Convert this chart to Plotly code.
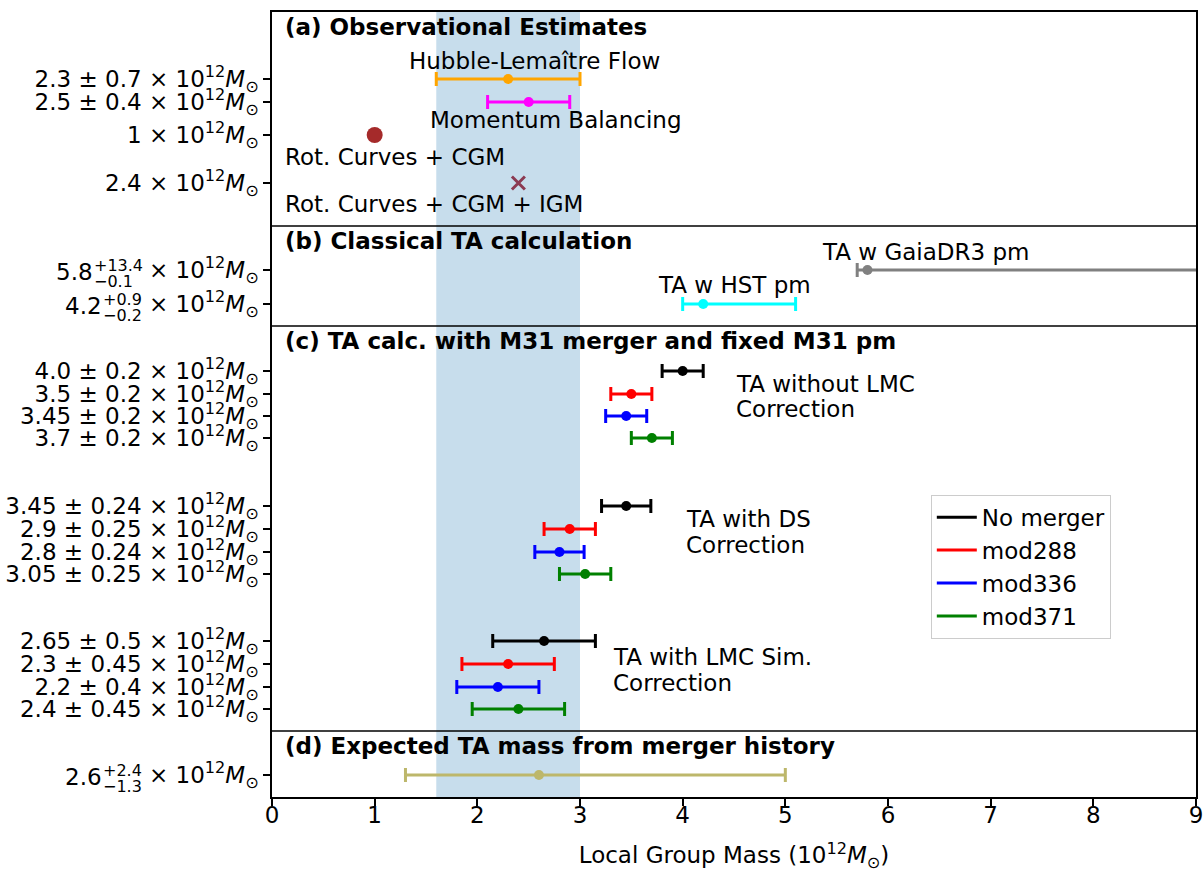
import plotly.graph_objects as go

# ---------------- data ----------------
# Panel (a): observational estimates
hubble_mass, hubble_err = 2.3, 0.7
momentum_mass, momentum_err = 2.5, 0.4
rot_cgm_mass = 1.0
rot_cgm_igm_mass = 2.4
# Panel (b): classical TA
gaia_mass, gaia_plus, gaia_minus = 5.8, 13.4, 0.1
hst_mass, hst_plus, hst_minus = 4.2, 0.9, 0.2
# Panel (c): TA with M31 merger
models = ["No merger", "mod288", "mod336", "mod371"]
model_colors = ["black", "red", "blue", "green"]
no_lmc_mass = [4.0, 3.5, 3.45, 3.7]
no_lmc_err = [0.2, 0.2, 0.2, 0.2]
ds_mass = [3.45, 2.9, 2.8, 3.05]
ds_err = [0.24, 0.25, 0.24, 0.25]
lmc_sim_mass = [2.65, 2.3, 2.2, 2.4]
lmc_sim_err = [0.5, 0.45, 0.4, 0.45]
# Panel (d): expected
merger_mass, merger_plus, merger_minus = 2.6, 2.4, 1.3

# row positions (vertical layout, top -> bottom)
row_a = [79, 102, 135, 183]
row_b = [270, 304]
row_c1 = [371, 394, 416, 438]
row_c2 = [506, 529, 552, 574]
row_c3 = [641, 664, 687, 709]
row_d = [775]
separators = [226, 326, 731]
band = [1.6, 3.0]

MS = "× 10<sup>12</sup><i>M</i><sub>⊙</sub>"
tick_labels_a = ["2.3 ± 0.7 " + MS, "2.5 ± 0.4 " + MS, "1 " + MS, "2.4 " + MS]
tick_labels_c1 = ["4.0 ± 0.2 " + MS, "3.5 ± 0.2 " + MS, "3.45 ± 0.2 " + MS, "3.7 ± 0.2 " + MS]
tick_labels_c2 = ["3.45 ± 0.24 " + MS, "2.9 ± 0.25 " + MS, "2.8 ± 0.24 " + MS, "3.05 ± 0.25 " + MS]
tick_labels_c3 = ["2.65 ± 0.5 " + MS, "2.3 ± 0.45 " + MS, "2.2 ± 0.4 " + MS, "2.4 ± 0.45 " + MS]
# asymmetric labels: (value, plus, minus)
asym_labels = [("5.8", "+13.4", "−0.1"), ("4.2", "+0.9", "−0.2"), ("2.6", "+2.4", "−1.3")]

FONT = "DejaVu Sans"
FS = 23
fig = go.Figure()

def ebar(x, y, err, color, errminus=None):
    ex = dict(type="data", array=[err], color=color, thickness=3, width=7, visible=True)
    if errminus is not None:
        ex["symmetric"] = False
        ex["arrayminus"] = [errminus]
    fig.add_trace(go.Scatter(x=[x], y=[y], mode="markers", showlegend=False,
                             marker=dict(color=color, size=10), error_x=ex,
                             hoverinfo="x"))

# (a)
ebar(hubble_mass, row_a[0], hubble_err, "#ffa500")
ebar(momentum_mass, row_a[1], momentum_err, "#ff00ff")
fig.add_trace(go.Scatter(x=[rot_cgm_mass], y=[row_a[2]], mode="markers", showlegend=False,
                         marker=dict(color="#a52a2a", size=16)))
fig.add_trace(go.Scatter(x=[rot_cgm_igm_mass], y=[row_a[3]], mode="markers", showlegend=False,
                         marker=dict(symbol="x-thin", size=13, line=dict(color="#8b3a52", width=3))))
# (b)
ebar(gaia_mass, row_b[0], gaia_plus, "#808080", gaia_minus)
ebar(hst_mass, row_b[1], hst_plus, "#00ffff", hst_minus)
# (c)
for i in range(4):
    ebar(no_lmc_mass[i], row_c1[i], no_lmc_err[i], model_colors[i])
    ebar(ds_mass[i], row_c2[i], ds_err[i], model_colors[i])
    ebar(lmc_sim_mass[i], row_c3[i], lmc_sim_err[i], model_colors[i])
# (d)
ebar(merger_mass, row_d[0], merger_plus, "#bdb76b", merger_minus)

# legend entries
for name, c in zip(models, model_colors):
    fig.add_trace(go.Scatter(x=[None], y=[None], mode="lines", name=name,
                             line=dict(color=c, width=3)))

tickvals = row_a + row_b + row_c1 + row_c2 + row_c3 + row_d
ticktext = (tick_labels_a + [MS, MS] + tick_labels_c1 + tick_labels_c2
            + tick_labels_c3 + [MS])

shapes = [dict(type="rect", xref="x", yref="paper", x0=band[0], x1=band[1], y0=0, y1=1,
               fillcolor="rgba(31,119,180,0.25)", line=dict(width=0), layer="below")]
for s in separators:
    shapes.append(dict(type="line", xref="paper", yref="y", x0=0, x1=1, y0=s, y1=s,
                       line=dict(color="black", width=1.5)))

ann = []
def text(x, y, s, anchor="left", xref="x", xshift=0, bold=False, size=FS):
    ann.append(dict(x=x, y=y, xref=xref, yref="y", text=("<b>%s</b>" % s) if bold else s,
                    showarrow=False, xanchor=anchor, yanchor="middle", xshift=xshift,
                    borderpad=0, font=dict(family=FONT, size=size, color="black")))

text(0, 27, "(a) Observational Estimates", xref="paper", xshift=12, bold=True)
text(0, 241, "(b) Classical TA calculation", xref="paper", xshift=12, bold=True)
text(0, 341, "(c) TA calc. with M31 merger and fixed M31 pm", xref="paper", xshift=12, bold=True)
text(0, 746, "(d) Expected TA mass from merger history", xref="paper", xshift=12, bold=True)
text(2.56, 61, "Hubble-Lemaître Flow", anchor="center")
text(2.77, 120, "Momentum Balancing", anchor="center")
text(0, 157, "Rot. Curves + CGM", xref="paper", xshift=12)
text(0, 204, "Rot. Curves + CGM + IGM", xref="paper", xshift=12)
text(5.35, 252, "TA w GaiaDR3 pm")
text(3.75, 285, "TA w HST pm")
text(4.51, 384, "TA without LMC")
text(4.51, 409, "Correction")
text(4.02, 519, "TA with DS")
text(4.02, 545, "Correction")
text(3.31, 657, "TA with LMC Sim.")
text(3.31, 683, "Correction")

# asymmetric tick-label prefixes (value + stacked scripts)
asym_rows = [row_b[0], row_b[1], row_d[0]]
script_left = [-179, -170, -170]
for (val, p, m), y, sl in zip(asym_labels, asym_rows, script_left):
    text(0, y + 2, val, anchor="right", xref="paper", xshift=sl + 1)
    text(0, y - 5, p, anchor="left", xref="paper", xshift=sl, size=16)
    text(0, y + 11, m, anchor="left", xref="paper", xshift=sl, size=16)

fig.update_layout(
    width=1203, height=872,
    margin=dict(l=272, r=7, t=12, b=75),
    paper_bgcolor="white", plot_bgcolor="white",
    font=dict(family=FONT, size=FS, color="black"),
    shapes=shapes, annotations=ann,
    xaxis=dict(range=[0, 9], tickvals=list(range(10)), ticks="outside", ticklen=7,
               tickwidth=1.5, tickcolor="black", showline=True, linecolor="black",
               linewidth=1.5, mirror=True, showgrid=False, zeroline=False,
               automargin=False, ticklabelstandoff=-10, ticklabeloverflow="allow",
               title=dict(text="Local Group Mass (10<sup>12</sup><i>M</i><sub>⊙</sub>)",
                          standoff=23, font=dict(family=FONT, size=FS))),
    yaxis=dict(range=[797, 12], tickvals=tickvals, ticktext=ticktext, ticks="outside",
               ticklen=7, tickwidth=1.5, tickcolor="black", showline=True,
               linecolor="black", linewidth=1.5, mirror=True, showgrid=False,
               zeroline=False, automargin=False),
    legend=dict(x=0.713, y=0.385, xanchor="left", yanchor="top",
                bgcolor="white", bordercolor="#cccccc", borderwidth=1,
                font=dict(family=FONT, size=FS), itemwidth=40),
    showlegend=True,
)

fig.write_html("out.html", config={"displayModeBar": False},
               post_script="document.body.style.margin='0';")
